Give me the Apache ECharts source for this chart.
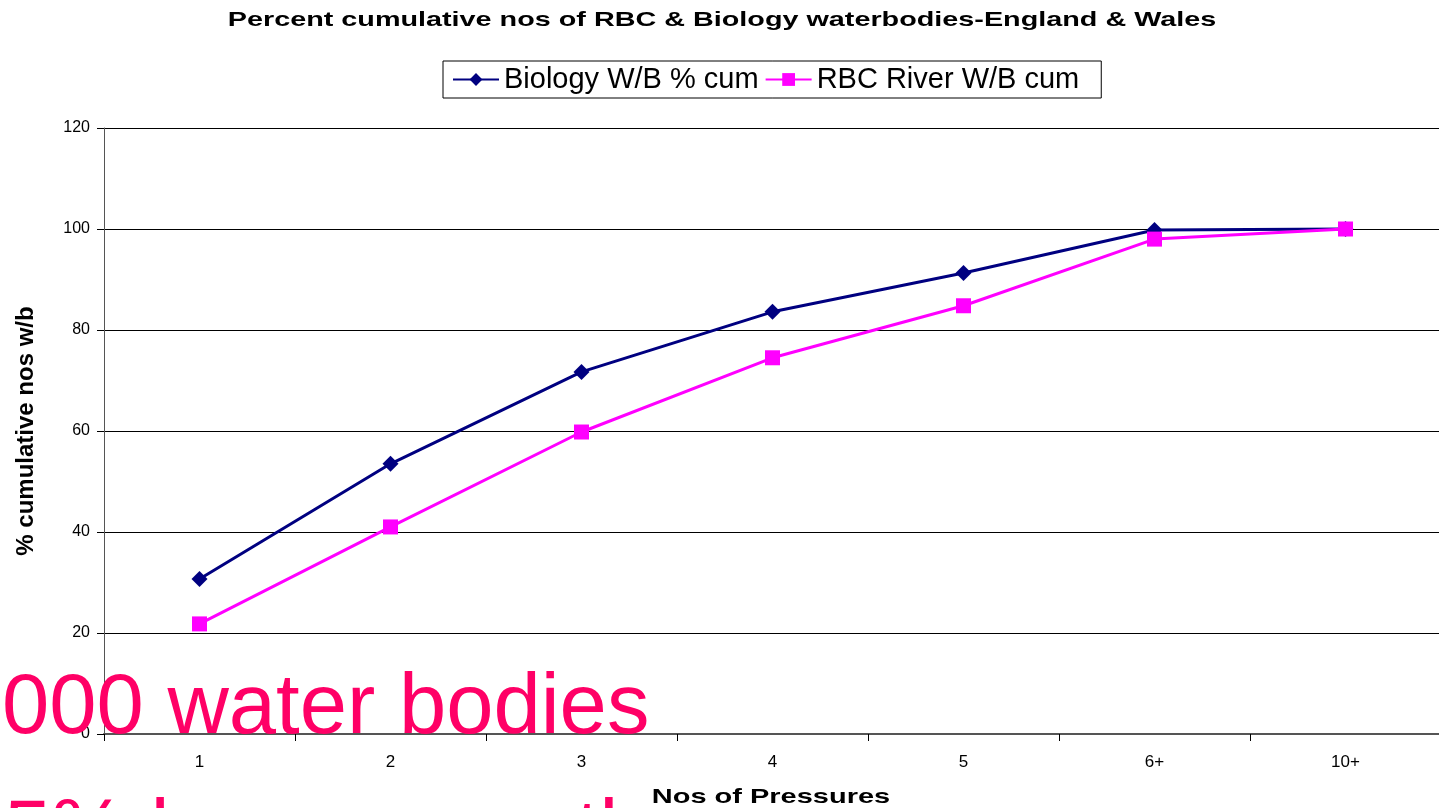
<!DOCTYPE html>
<html>
<head>
<meta charset="utf-8">
<script src="https://cdn.jsdelivr.net/npm/echarts@6/dist/echarts.min.js"></script>
<style>
  html, body { margin: 0; padding: 0; background: #fff; }
  #main { width: 1439px; height: 808px; }
</style>
</head>
<body>
<div id="main"></div>
<script>
// categories (number of pressures)
var pressures = ['1', '2', '3', '4', '5', '6+', '10+'];
// cumulative percentages
var biologyCum = [30.7, 53.5, 71.7, 83.6, 91.3, 99.8, 100];
var rbcCum = [21.8, 41.0, 59.8, 74.5, 84.8, 98.0, 100];

var chart = echarts.init(document.getElementById('main'));
var font = 'Liberation Sans, Arial, sans-serif';

chart.setOption({
  backgroundColor: '#fff',
  animation: false,
  legend: {
    top: 61,
    left: 443,
    borderColor: '#000',
    borderWidth: 1,
    borderRadius: 0,
    padding: [4, 22, 4, 9],
    itemGap: 6,
    itemWidth: 46,
    itemHeight: 16,
    textStyle: { fontFamily: font, fontSize: 29, color: '#000' },
    data: ['Biology W/B % cum', 'RBC River W/B cum']
  },
  grid: { left: 104, right: -2, top: 128, bottom: 74, outerBoundsMode: 'none' },
  xAxis: {
    type: 'category',
    data: pressures,
    axisLine: { lineStyle: { color: '#555', width: 2 } },
    axisTick: { show: true, length: 7, lineStyle: { color: '#000' } },
    axisLabel: { fontFamily: font, fontSize: 17, color: '#000', margin: 20 }
  },
  yAxis: {
    type: 'value',
    min: 0,
    max: 120,
    interval: 20,
    name: '% cumulative nos w/b',
    nameLocation: 'middle',
    nameGap: 66,
    nameTextStyle: { fontFamily: font, fontSize: 24, fontWeight: 'bold', color: '#000' },
    axisLine: { show: true, lineStyle: { color: '#555', width: 1 } },
    axisTick: { show: true, length: 7, lineStyle: { color: '#000' } },
    axisLabel: { fontFamily: font, fontSize: 16, color: '#000', margin: 14 },
    splitLine: { lineStyle: { color: '#000', width: 1 } }
  },
  series: [
    {
      name: 'Biology W/B % cum',
      type: 'line',
      data: biologyCum,
      symbol: 'diamond',
      symbolSize: 16,
      color: '#000080',
      lineStyle: { color: '#000080', width: 3 },
      itemStyle: { color: '#000080' },
      z: 3
    },
    {
      name: 'RBC River W/B cum',
      type: 'line',
      data: rbcCum,
      symbol: 'rect',
      symbolSize: 15,
      color: '#FF00FF',
      lineStyle: { color: '#FF00FF', width: 3 },
      itemStyle: { color: '#FF00FF' },
      z: 4
    }
  ],
  graphic: [
    {
      // chart title
      type: 'text',
      x: 722,
      y: 10,
      scaleX: 1.37,
      z: 50,
      style: {
        text: 'Percent cumulative nos of RBC & Biology waterbodies-England & Wales',
        x: 0,
        y: 0,
        align: 'center',
        verticalAlign: 'top',
        fill: '#000',
        font: 'bold 21px ' + font
      }
    },
    {
      // x axis title
      type: 'text',
      x: 771,
      y: 787,
      scaleX: 1.38,
      z: 50,
      style: {
        text: 'Nos of Pressures',
        x: 0,
        y: 0,
        align: 'center',
        verticalAlign: 'top',
        fill: '#000',
        font: 'bold 21px ' + font
      }
    },
    {
      type: 'text',
      x: 2,
      y: 667,
      z: 100,
      style: {
        text: '000 water bodies',
        x: 0,
        y: 0,
        verticalAlign: 'top',
        fill: '#FF0066',
        font: '85px ' + font
      }
    },
    {
      type: 'text',
      x: 4,
      y: 793,
      z: 100,
      style: {
        text: '5% have more th',
        x: 0,
        y: 0,
        verticalAlign: 'top',
        fill: '#FF0066',
        font: '85px ' + font
      }
    }
  ]
});
</script>
</body>
</html>
